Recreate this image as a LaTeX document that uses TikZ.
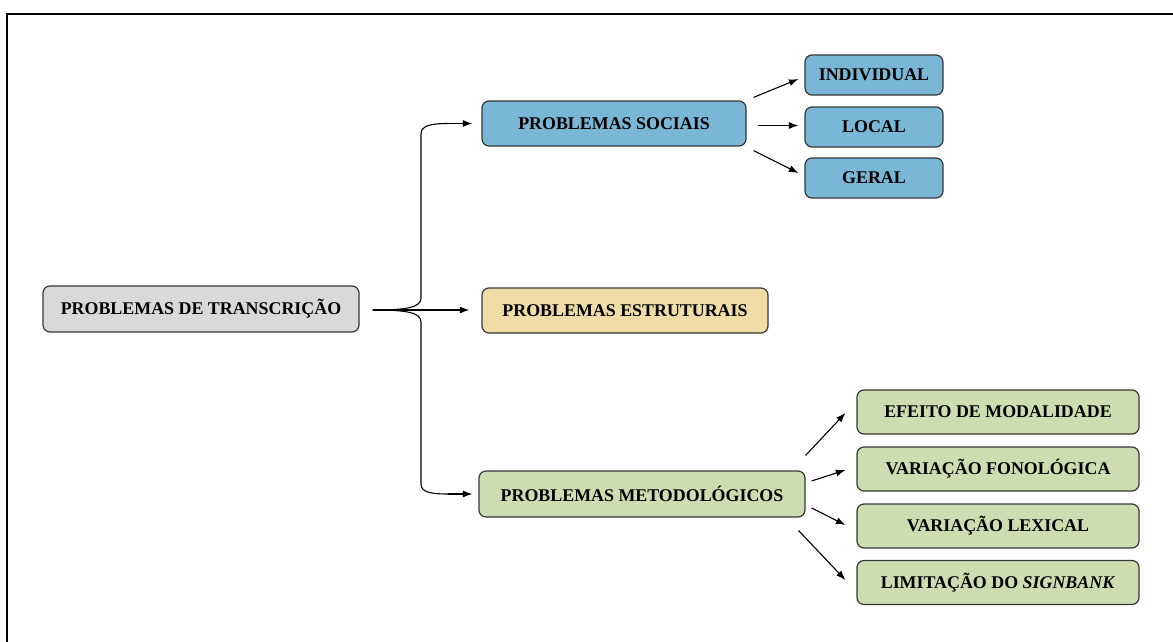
\documentclass[tikz,border=0pt]{standalone}
\usepackage{fontspec}
\setmainfont{Liberation Serif}
\usetikzlibrary{arrows.meta,calc}
\definecolor{boxline}{RGB}{55,55,55}
\definecolor{grayfill}{RGB}{217,217,217}
\definecolor{bluefill}{RGB}{122,182,214}
\definecolor{tanfill}{RGB}{240,220,166}
\definecolor{greenfill}{RGB}{206,221,177}
\begin{document}
\begin{tikzpicture}[x=1pt,y=-1pt,
  box/.style={draw=boxline, line width=1.2pt, rounded corners=7pt,
    font=\fontsize{17.9}{20}\selectfont\bfseries, inner sep=0pt, align=center},
  arr/.style={-{Latex[length=9.5pt,width=7pt]}, line width=1.1pt},
  brace/.style={line width=1.1pt}]
\useasboundingbox (0,0) rectangle (1173,642);
% frame
\draw[line width=2.6pt] (7,642) -- (7,14) -- (1173,14);

% nodes
\node[box, fill=grayfill, minimum width=316, minimum height=46] (root) at (201,309) {PROBLEMAS DE TRANSCRIÇÃO};
\node[box, fill=bluefill, minimum width=264, minimum height=45] (soc) at (614,123.5) {PROBLEMAS SOCIAIS};
\node[box, fill=tanfill, minimum width=286, minimum height=45] (est) at (625,310.5) {PROBLEMAS ESTRUTURAIS};
\node[box, fill=greenfill, minimum width=326, minimum height=46] (met) at (642,494) {PROBLEMAS METODOLÓGICOS};

\node[box, fill=bluefill, minimum width=138, minimum height=40] (ind) at (874,75) {INDIVIDUAL};
\node[box, fill=bluefill, minimum width=138, minimum height=40] (loc) at (874,127) {LOCAL};
\node[box, fill=bluefill, minimum width=138, minimum height=40] (ger) at (874,178) {GERAL};

\node[box, fill=greenfill, minimum width=282, minimum height=44] (efe) at (998,412) {EFEITO DE MODALIDADE};
\node[box, fill=greenfill, minimum width=282, minimum height=44] (fon) at (998,469) {VARIAÇÃO FONOLÓGICA};
\node[box, fill=greenfill, minimum width=282, minimum height=44] (lex) at (998,526) {VARIAÇÃO LEXICAL};
\node[box, fill=greenfill, minimum width=282, minimum height=44] (sig) at (998,582.5) {LIMITAÇÃO DO \textit{SIGNBANK}};

% brace connector
\coordinate (cusp) at ($(root.east)+(13,1)$);
\draw[brace] (cusp) .. controls (405,310) and (421,308) .. (421,298)
  -- (421,134) .. controls (421,126) and (430,123.5) .. (448,123.5);
\draw[arr] (448,123.5) -- ($(soc.west)+(-9,0)$);
\draw[brace] (cusp) .. controls (405,310) and (421,312) .. (421,322)
  -- (421,484) .. controls (421,492) and (430,494) .. (448,494);
\draw[arr] (448,494) -- ($(met.west)+(-6,0)$);
\draw[arr] (cusp) -- ($(est.west)+(-12,-0.5)$);

% social arrows
\draw[arr] ($(soc.north east)+(7,-3)$) -- ($(ind.west)+(-6,4)$);
\draw[arr] ($(soc.east)+(11,2)$) -- ($(loc.west)+(-6,-1.5)$);
\draw[arr] ($(soc.south east)+(7,4)$) -- ($(ger.west)+(-6,-5)$);

% methodological arrows
\draw[arr] ($(met.north east)+(0,-15)$) -- ($(efe.west)+(-11,1)$);
\draw[arr] ($(met.east)+(6,-13)$) -- ($(fon.west)+(-11,1)$);
\draw[arr] ($(met.east)+(6,14)$) -- ($(lex.west)+(-11,-1)$);
\draw[arr] ($(met.south east)+(-7,13)$) -- ($(sig.west)+(-11,-2.5)$);
\end{tikzpicture}
\end{document}
